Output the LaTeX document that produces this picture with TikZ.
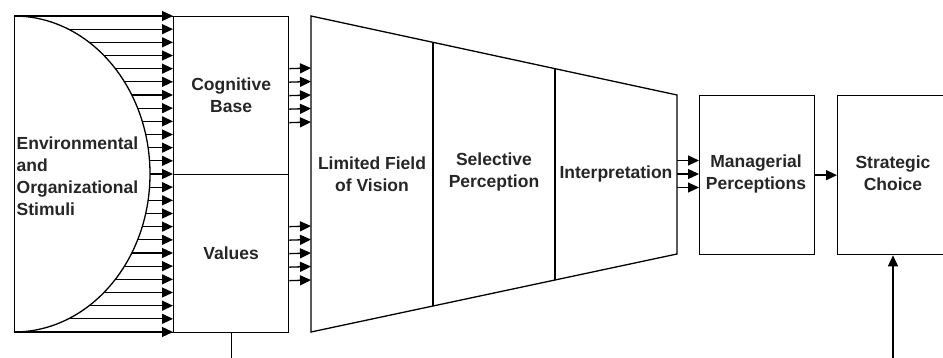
\documentclass[tikz,border=0pt]{standalone}
\usepackage{fontspec}
\setmainfont{Liberation Sans}
\usetikzlibrary{arrows.meta,calc}
\begin{document}
\begin{tikzpicture}[
		x=1pt, y=-1pt,
		line width=1.3pt,
		every node/.style={font=\fontsize{17.5}{22}\selectfont\bfseries, text=black!85},
		block/.style={draw, rectangle, anchor=north west, align=center, inner sep=0pt},
		feed/.style={-{Triangle[length=11pt,width=10pt]}}
	]
		\useasboundingbox (0,0) rectangle (943,358);
		% stimuli and the two filters
		\node[block, minimum width=159pt, minimum height=316pt] (stim) at (14,16) {};
		\draw (stim.north west) arc[start angle=90, end angle=-90, x radius=136pt, y radius=158pt];
		\node[anchor=west, align=left, inner sep=1pt] (stimtext) at (15,176) {Environmental\\and\\Organizational\\Stimuli};
		\node[block, minimum width=115pt, minimum height=158pt] (cog) at (173,16) {Cognitive\\Base};
		\node[block, minimum width=115pt, minimum height=158pt] (val) at (173,174) {Values};
		\foreach \i in {0,...,24} {
			\pgfmathsetmacro\yy{16+\i*13.1667}
			\pgfmathsetmacro\xx{14+136*sqrt(max(0,1-((\yy-174)/158)^2))}
			\draw[feed] (\xx,\yy) -- (cog.west |- 0,\yy);
		}
		% the funnel
		\coordinate (tl) at (311,16);
		\coordinate (tr) at (677,95);
		\coordinate (br) at (677,254);
		\coordinate (bl) at (311,332);
		\draw (tl) -- (tr) -- (br) -- (bl) -- cycle;
		\draw ($(tl)!1/3!(tr)$) -- ($(bl)!1/3!(br)$);
		\draw ($(tl)!2/3!(tr)$) -- ($(bl)!2/3!(br)$);
		\node[align=center] (field) at (372,174) {Limited Field\\of Vision};
		\node[align=center] (sel) at (494,172) {Selective\\Perception};
		\node[align=center] (interp) at (616,174) {Interpretation};
		\foreach \d in {-27,-13.5,0,13.5,27} {
			\draw[feed] ($(cog.east)+(0,\d)$) -- (tl |- 0,95+\d);
			\draw[feed] ($(val.east)+(0,\d)$) -- (tl |- 0,253+\d);
		}
		% perceptions and choice
		\node[block, minimum width=115pt, minimum height=159pt] (mgr) at (699,95) {};
		\node[align=center] (mgrtext) at (756,174) {Managerial\\Perceptions};
		\node[block, minimum width=112pt, minimum height=159pt] (choice) at (837,95) {};
		\node[align=center] (choicetext) at (893,173) {Strategic\\Choice};
		\foreach \d in {-13.5,0,13.5}
			\draw[feed] (tr |- 0,174+\d) -- (mgr.west |- 0,174+\d);
		\draw[feed] (mgr.east) -- (choice.west);
		\coordinate (valout) at (val.south |- 0,358);
		\coordinate (choicein) at (893,358);
		\draw (val.south) -- (valout);
		\draw[feed] (choicein) -- (choice.south -| choicein);
\end{tikzpicture}
\end{document}
